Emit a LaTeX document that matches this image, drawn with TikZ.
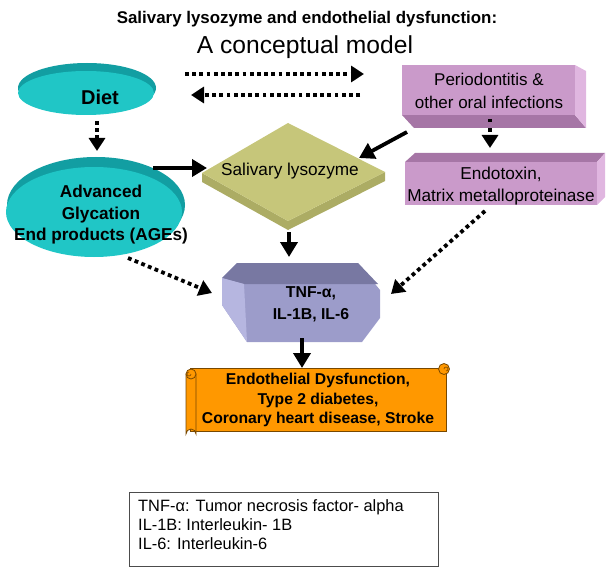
\documentclass[tikz,border=0pt]{standalone}
\usepackage{fontspec}
\setmainfont{Liberation Sans}
\usetikzlibrary{arrows.meta}
\definecolor{cyanL}{RGB}{32,198,198}
\definecolor{cyanD}{RGB}{18,158,162}
\definecolor{olvT}{RGB}{198,198,122}
\definecolor{olvS}{RGB}{172,172,100}
\definecolor{mauF}{RGB}{202,154,202}
\definecolor{mauD}{RGB}{166,118,166}
\definecolor{mauL}{RGB}{224,182,224}
\definecolor{lavF}{RGB}{156,156,202}
\definecolor{lavD}{RGB}{120,120,162}
\definecolor{lavL}{RGB}{182,182,224}
\definecolor{orgF}{RGB}{255,152,0}
\definecolor{orgD}{RGB}{120,72,0}
\tikzset{
  solidarr/.style={line width=3.8pt,-{Triangle[length=15pt,width=17pt]}},
  dotarr/.style={line width=3.8pt,dash pattern=on 3.8pt off 3.4pt,-{Triangle[length=13pt,width=16pt]}},
  lbl/.style={inner sep=0pt,align=center,text=black},
}
\begin{document}
\begin{tikzpicture}[x=1pt,y=-1pt]
\useasboundingbox (0,0) rectangle (615,572);
% title
\node[lbl,font=\bfseries\fontsize{16.9}{20}\selectfont] (t1) at (307,19) {Salivary lysozyme and endothelial dysfunction:};
\node[lbl,font=\fontsize{24.6}{28}\selectfont] (t2) at (305,47) {A conceptual model};
% Diet
\fill[cyanD] (87,88) ellipse [x radius=69,y radius=25];
\fill[cyanL] (86,93) ellipse [x radius=68,y radius=22];
\node[lbl,font=\bfseries\fontsize{20}{24}\selectfont] (diet) at (100,97) {Diet};
% AGEs
\fill[cyanD] (96,205) ellipse [x radius=89,y radius=48];
\fill[cyanL] (94,212) ellipse [x radius=88,y radius=45];
\node[lbl,font=\bfseries\fontsize{17.2}{21.5}\selectfont] (age) at (101,215) {Advanced\\Glycation\\End products (AGEs)};
% Salivary lysozyme
\fill[olvS] (202,173) -- (288,221) -- (385,172) -- (385,181) -- (288,230) -- (202,182) -- cycle;
\fill[olvT] (288,123) -- (385,172) -- (288,221) -- (202,173) -- cycle;
\node[lbl,font=\fontsize{17.2}{20}\selectfont] (lys) at (290,171) {Salivary lysozyme};
% Periodontitis box
\fill[mauD] (402,115) -- (414,128) -- (586,128) -- (575,115) -- cycle;
\fill[mauL] (575,65) -- (586,71) -- (586,128) -- (575,115) -- cycle;
\fill[mauF] (402,65) rectangle (575,115);
\node[lbl,font=\fontsize{17}{23}\selectfont] (per) at (489,91) {Periodontitis \&\\other oral infections};
% Endotoxin box
\fill[mauD] (405,162) -- (415,153) -- (605,153) -- (597,162) -- cycle;
\fill[mauL] (597,162) -- (605,153) -- (605,197) -- (597,205) -- cycle;
\fill[mauF] (405,162) rectangle (597,205);
\node[lbl,font=\fontsize{17.2}{22}\selectfont] (endo) at (501,186) {Endotoxin,\\Matrix metalloproteinase};
% TNF
\fill[lavF] (237,263) -- (358,263) -- (380,290) -- (380,318) -- (362,342) -- (247,342) -- (222,305) -- (222,278) -- cycle;
\fill[lavD] (222,278) -- (237,263) -- (358,263) -- (378,284) -- (244,284) -- cycle;
\fill[lavL] (222,278) -- (244,284) -- (247,342) -- (222,305) -- cycle;
\node[lbl,font=\bfseries\fontsize{15.8}{22}\selectfont] (tnf) at (311,304) {TNF-α,\\IL-1B, IL-6};
% scroll
\fill[orgF,draw=orgD,line width=0.8pt] (190,368) -- (446,368) -- (446,431) -- (190,431) -- cycle;
\fill[orgF,draw=orgD,line width=0.8pt] (186,374) -- (196,374) -- (196,434) arc[start angle=0,end angle=-180,radius=5] -- cycle;
\fill[orgF,draw=orgD,line width=0.8pt] (191,374) circle[radius=5];
\draw[orgD,line width=0.6pt] (191,374) arc[start angle=0,end angle=270,radius=2];
\fill[orgF,draw=orgD,line width=0.8pt] (444,369) circle[radius=5.5];
\draw[orgD,line width=0.6pt] (444,369) arc[start angle=180,end angle=450,radius=2];
\node[lbl,font=\bfseries\fontsize{15.7}{19.5}\selectfont] (scr) at (318,400) {Endothelial Dysfunction,\\Type 2 diabetes,\\Coronary heart disease, Stroke};
% legend
\draw[line width=0.8pt,draw=black!70] (129,492) rectangle (438,566);
\node[lbl,align=left,anchor=north west,font=\fontsize{16.4}{19}\selectfont] (leg) at (138,499) {TNF-α: Tumor necrosis factor- alpha\\IL-1B: Interleukin- 1B\\IL-6: Interleukin-6};
% connector endpoints
\coordinate (d1a) at (185,74); \coordinate (d1b) at (364,74);
\coordinate (d2a) at (360,95); \coordinate (d2b) at (191,95);
\coordinate (da) at (97,121); \coordinate (db) at (97,151);
\coordinate (aga) at (153,168); \coordinate (agb) at (207,168);
\coordinate (pa) at (407,132); \coordinate (pb) at (359,158);
\coordinate (pea) at (490,119); \coordinate (peb) at (490,148);
\coordinate (la) at (289,232); \coordinate (lb) at (289,257);
\coordinate (ata) at (128,258); \coordinate (atb) at (212,293);
\coordinate (eta) at (485,211); \coordinate (etb) at (391,294);
\coordinate (tsa) at (302,338); \coordinate (tsb) at (302,368);
\draw[dotarr] (d1a) -- (d1b);
\draw[dotarr] (d2a) -- (d2b);
\draw[dotarr] (da) -- (db);
\draw[solidarr] (aga) -- (agb);
\draw[solidarr] (pa) -- (pb);
\draw[dotarr,dash pattern=on 3.5pt off 6pt] (pea) -- (peb);
\draw[solidarr] (la) -- (lb);
\draw[dotarr] (ata) -- (atb);
\draw[dotarr] (eta) -- (etb);
\draw[solidarr] (tsa) -- (tsb);
\end{tikzpicture}
\end{document}
